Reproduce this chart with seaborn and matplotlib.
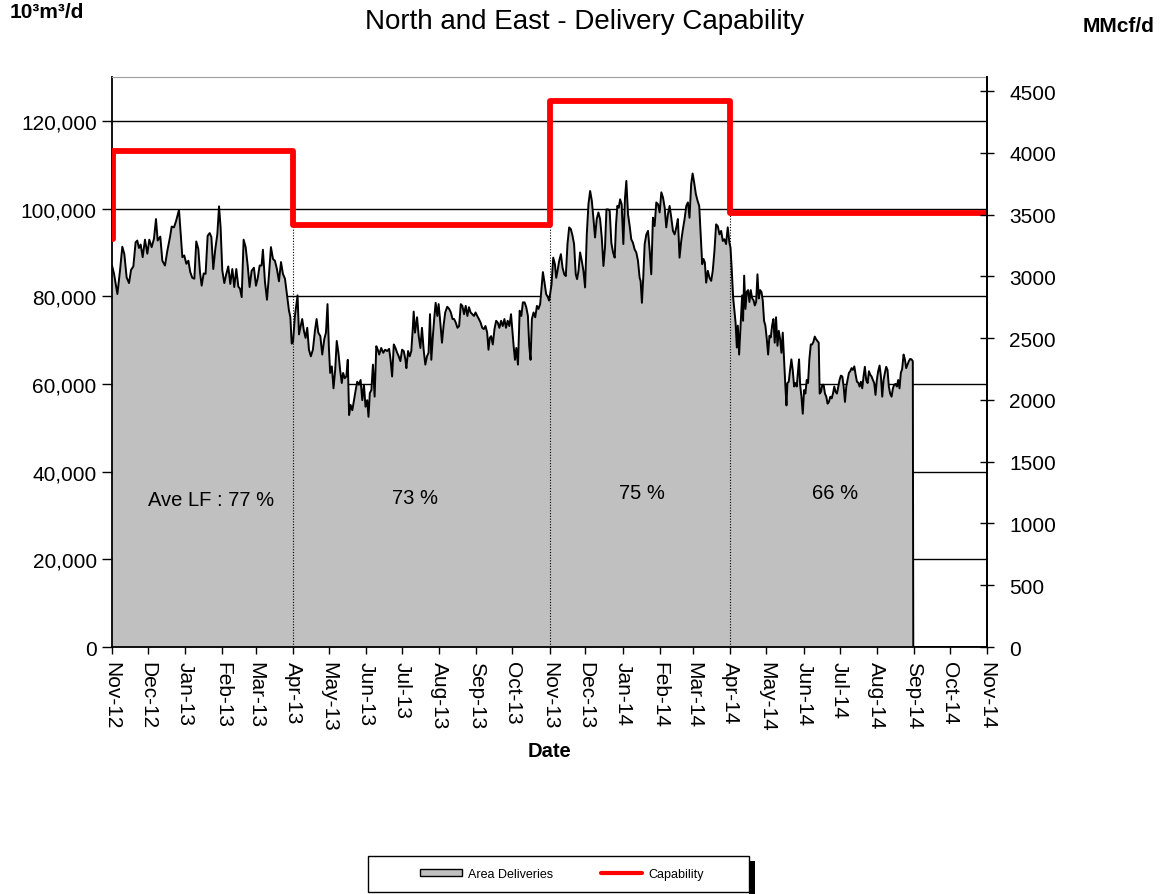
import numpy as np
import pandas as pd
import matplotlib
matplotlib.use("Agg")
import matplotlib.pyplot as plt
import matplotlib.ticker as mticker
from matplotlib.patches import Rectangle, Patch
from matplotlib.lines import Line2D
import seaborn as sns

# ---------------- data ----------------
# daily area deliveries: (days since 2012-11-01, thousand 10^3 m^3/d)
deliveries_winter_2012 = [
    (0, 87.0), (1.7, 85.1), (4.5, 80.5), (6.7, 85.9), (8.6, 91.3), (10.3, 89.6), (12.2, 84.3), (14.2, 83.0),
    (15.9, 86.0), (17.8, 86.8), (19.7, 92.3), (21.1, 92.7), (22.5, 91.0), (23.9, 91.8), (25.6, 88.9),
    (27.5, 92.9), (29.5, 89.7), (31.1, 92.9), (33.1, 91.2), (35.0, 93.1), (36.7, 97.6), (38.1, 92.7),
    (40.3, 93.6), (42.0, 88.1), (44.2, 87.0), (46.2, 90.4), (48.4, 93.5), (49.8, 95.9), (51.7, 95.7),
    (53.4, 97.1), (55.9, 99.7), (57.3, 94.2), (58.7, 88.9), (60.3, 89.3), (62.0, 87.4), (63.7, 88.1),
    (65.3, 85.5), (67.0, 84.2), (68.7, 84.0), (70.3, 92.5), (72.0, 90.8), (73.4, 85.5), (74.8, 82.4),
    (76.5, 85.2), (78.1, 85.1), (79.8, 93.8), (81.5, 94.4), (82.9, 93.5), (84.5, 86.2), (86.2, 90.8),
    (87.9, 94.2), (89.3, 100.5), (90.6, 95.7), (92.0, 85.9), (93.7, 83.0), (95.4, 85.1), (97.0, 86.8),
    (98.7, 82.8), (100.4, 86.2), (102.0, 82.1), (103.7, 86.2), (105.4, 82.2), (106.8, 81.7), (108.2, 79.8),
    (109.8, 92.9), (111.5, 91.2), (113.2, 87.0), (114.8, 82.1), (116.5, 85.8), (118.4, 86.5), (120.1, 82.4),
    (121.5, 84.0), (123.2, 87.0), (124.8, 87.0), (125.9, 90.6), (127.6, 83.3), (129.3, 79.2), (130.9, 84.7),
    (132.6, 91.2), (134.3, 88.5), (135.9, 88.1), (137.6, 86.2), (139.3, 83.4), (141.0, 87.8), (142.6, 85.1),
    (144.3, 84.0), (146.0, 80.2), (147.6, 76.8), (148.8, 75.2), (149.9, 69.2), (151.0, 69.5),
]
deliveries_summer_2013 = [
    (152.6, 75.5), (154.8, 80.2), (156.0, 71.3), (157.4, 73.2), (158.7, 74.8), (160.1, 72.1), (161.5, 70.5),
    (162.9, 72.8), (164.3, 67.8), (165.9, 66.3), (167.6, 67.8), (169.3, 72.1), (170.7, 74.8), (172.1, 71.7),
    (173.8, 70.9), (175.4, 66.7), (177.1, 70.2), (178.5, 71.7), (179.8, 78.2), (180.9, 68.6), (182.0, 62.5),
    (183.4, 64.0), (184.8, 59.0), (186.2, 63.2), (187.5, 69.8), (188.9, 67.1), (190.3, 63.2), (191.7, 60.2),
    (192.8, 62.5), (194.2, 61.3), (195.5, 61.7), (196.7, 65.5), (197.8, 52.9), (199.1, 55.2), (200.5, 54.0),
    (201.9, 56.3), (203.3, 58.6), (204.6, 60.5), (206.0, 59.8), (207.4, 60.9), (208.8, 56.3), (210.2, 59.8),
    (211.5, 54.8), (212.9, 56.3), (214.0, 52.5), (215.1, 57.9), (216.4, 58.6), (217.7, 64.4), (219.1, 57.1),
    (220.5, 68.6), (221.8, 67.8), (222.9, 66.7), (224.6, 68.2), (226.3, 67.1), (227.9, 67.8), (229.6, 67.5),
    (231.2, 68.0), (232.4, 65.5), (233.7, 61.7), (235.1, 69.0), (236.5, 68.2), (237.9, 67.1), (239.2, 66.3),
    (240.6, 65.2), (242.0, 67.8), (243.4, 67.5), (244.8, 65.5), (245.6, 63.6), (247.0, 67.5), (248.4, 66.3),
    (249.7, 67.5), (250.9, 72.5), (251.7, 76.5), (252.8, 71.7), (254.5, 75.2), (255.9, 70.9), (257.3, 68.2),
    (258.6, 72.8), (260.0, 67.8), (261.4, 64.4), (262.8, 66.3), (264.1, 67.1), (265.3, 75.9), (266.4, 65.5),
    (267.7, 70.9), (268.8, 74.8), (270.0, 78.5), (271.4, 75.5), (272.5, 78.2), (273.9, 74.0), (275.3, 69.4),
    (276.6, 73.2), (278.0, 76.3), (279.7, 77.6), (281.3, 77.1), (282.7, 76.3), (284.1, 74.8), (285.4, 74.8),
    (286.8, 74.0), (288.2, 72.8), (289.6, 73.2), (291.0, 78.2), (292.3, 77.8), (293.7, 75.9), (295.1, 77.8),
    (296.5, 75.5), (297.8, 77.5), (299.2, 76.3), (300.6, 75.9), (302.0, 75.5), (303.3, 76.3), (304.7, 75.5),
    (306.1, 74.8), (307.5, 74.0), (308.9, 72.8), (310.2, 72.5), (311.6, 73.2), (313.0, 71.7), (314.1, 67.8),
    (315.2, 70.5), (316.3, 70.9), (317.7, 69.0), (319.1, 72.5), (320.5, 74.4), (321.8, 74.0), (323.2, 72.8),
    (324.6, 74.4), (326.0, 73.2), (327.4, 74.8), (328.7, 72.8), (330.1, 74.4), (331.5, 73.2), (332.9, 75.9),
    (334.0, 72.1), (335.1, 68.6), (336.2, 65.5), (337.3, 68.2), (338.7, 64.4), (340.1, 76.7), (341.5, 75.5),
    (342.8, 78.6), (344.2, 78.6), (345.6, 77.5), (347.0, 75.5), (348.1, 68.6), (349.2, 65.5), (350.3, 74.8),
    (351.7, 76.3), (353.1, 75.2), (354.5, 77.8), (355.8, 77.1), (357.2, 78.2), (358.3, 81.7), (359.5, 85.5),
    (360.8, 83.2), (362.2, 80.5), (363.6, 79.8), (364.7, 79.0),
]
deliveries_winter_2013 = [
    (366.7, 82.7), (368.1, 88.8), (369.5, 87.3), (370.6, 84.2), (371.7, 85.8), (373.1, 88.1), (374.5, 89.6),
    (375.9, 86.5), (377.3, 85.0), (378.6, 84.6), (380.0, 91.9), (381.4, 95.7), (382.8, 95.3), (384.2, 93.8),
    (385.5, 91.9), (386.9, 85.0), (388.0, 83.9), (389.2, 85.8), (390.5, 90.0), (391.9, 88.1), (393.3, 85.8),
    (394.7, 82.0), (396.1, 94.1), (397.5, 101.0), (398.9, 104.0), (400.3, 101.8), (401.6, 97.9), (403.0, 93.4),
    (404.4, 97.6), (405.8, 99.1), (407.2, 97.6), (408.6, 93.4), (410.0, 86.9), (411.3, 91.1), (412.5, 99.8),
    (413.9, 99.8), (415.2, 99.5), (416.6, 92.2), (418.0, 90.0), (419.4, 88.8), (420.5, 96.4), (421.6, 100.6),
    (422.8, 100.2), (423.9, 102.1), (425.2, 101.0), (426.6, 91.9), (428.0, 102.5), (429.1, 106.3), (430.5, 98.7),
    (431.9, 96.0), (433.2, 93.0), (434.6, 92.2), (436.0, 90.7), (437.4, 90.0), (438.8, 88.1), (440.2, 84.2),
    (441.0, 83.5), (442.1, 78.5), (443.2, 84.2), (444.4, 91.9), (445.8, 94.1), (447.2, 94.9), (448.6, 90.3),
    (449.9, 85.0), (451.3, 97.9), (452.7, 96.0), (454.1, 101.4), (455.5, 101.0), (456.9, 99.1), (458.3, 103.7),
    (459.7, 102.5), (461.1, 100.2), (462.4, 95.7), (463.8, 98.7), (465.2, 100.6), (466.6, 97.9), (468.0, 94.9),
    (469.4, 94.1), (470.8, 95.7), (472.1, 97.6), (473.5, 88.8), (474.9, 92.6), (476.3, 95.3), (477.7, 97.6),
    (479.1, 100.6), (480.5, 101.4), (481.8, 97.9), (483.2, 105.6), (484.4, 108.0), (485.7, 105.9), (487.1, 103.3),
    (488.5, 101.8), (489.9, 100.6), (491.3, 93.4), (492.4, 87.3), (493.5, 88.5), (494.6, 87.7), (495.7, 83.1),
    (497.1, 85.8), (498.5, 84.2), (499.9, 83.5), (501.2, 85.8), (502.6, 90.3), (504.0, 96.4), (505.4, 96.0),
    (506.8, 94.1), (508.2, 94.9), (509.6, 92.6), (510.9, 93.0), (512.3, 91.9), (513.7, 95.7), (515.1, 92.2),
    (516.0, 91.1), (517.1, 85.8), (518.2, 79.7), (519.3, 76.6),
]
deliveries_summer_2014 = [
    (520.2, 74.1), (521.3, 68.3), (522.1, 73.3), (523.2, 66.7), (524.6, 74.1), (525.7, 80.2), (526.5, 74.4),
    (527.4, 84.7), (528.5, 77.1), (529.6, 81.0), (530.7, 81.4), (531.8, 78.7), (532.9, 81.4), (534.1, 79.5),
    (535.2, 79.1), (536.3, 77.9), (537.4, 78.7), (538.5, 85.0), (539.6, 79.5), (540.7, 81.4), (541.8, 81.0),
    (542.9, 79.1), (544.0, 74.4), (545.1, 73.3), (546.3, 70.2), (547.4, 66.7), (548.5, 71.0), (549.6, 70.6),
    (550.7, 73.3), (551.8, 74.8), (552.9, 69.4), (554.0, 75.2), (555.2, 68.7), (556.3, 72.1), (557.4, 70.2),
    (558.5, 67.1), (559.6, 71.7), (560.7, 65.6), (561.8, 59.4), (562.7, 55.1), (563.5, 60.2), (564.6, 60.5),
    (565.7, 63.2), (566.8, 65.6), (567.9, 63.2), (569.1, 59.4), (570.2, 60.2), (571.3, 59.4), (572.4, 63.2),
    (573.2, 65.6), (574.1, 59.8), (575.2, 57.1), (576.3, 53.2), (577.4, 58.6), (578.5, 57.8), (579.6, 60.9),
    (580.7, 60.2), (581.8, 65.6), (583.0, 69.0), (584.1, 69.0), (585.2, 69.6), (586.3, 70.8), (587.4, 70.2),
    (588.5, 69.8), (589.6, 69.4), (590.4, 57.8), (591.5, 58.2), (592.6, 59.8), (593.7, 59.8), (594.8, 57.8),
    (595.9, 57.1), (597.0, 55.5), (598.1, 55.9), (599.3, 57.1), (600.4, 56.7), (601.5, 57.8), (602.6, 59.4),
    (603.7, 58.2), (604.8, 57.8), (605.9, 59.4), (607.0, 60.9), (608.1, 61.9), (609.3, 61.7), (610.4, 59.4),
    (611.5, 55.9), (612.6, 59.4), (613.7, 60.9), (614.8, 62.5), (615.9, 62.9), (617.0, 63.6), (618.1, 63.2),
    (619.3, 64.0), (620.4, 62.1), (621.5, 60.5), (622.6, 60.3), (623.7, 59.4), (624.8, 60.5), (625.9, 59.0),
    (627.0, 61.7), (628.1, 63.9), (629.2, 60.9), (630.4, 60.2), (631.5, 62.9), (632.6, 62.1), (633.7, 61.7),
    (634.8, 60.9), (635.9, 60.2), (637.0, 57.5), (638.1, 60.9), (639.2, 62.9), (640.4, 64.2), (641.5, 61.7),
    (642.6, 57.1), (643.7, 60.9), (644.8, 62.5), (645.9, 63.9), (647.0, 63.2), (648.1, 59.4), (649.2, 57.8),
    (650.4, 57.1), (651.5, 59.0), (652.6, 59.8), (653.7, 60.0), (654.8, 59.4), (655.9, 60.9), (657.0, 59.0),
    (658.1, 62.5), (659.2, 63.4), (660.4, 66.7), (661.5, 65.6), (662.6, 63.6), (663.7, 64.4), (664.8, 65.2),
    (665.9, 65.7), (667.0, 65.6), (668.1, 65.2),
    (668.5, 0.0), (730.0, 0.0),   # no deliveries reported after end of August 2014
]

# delivery capability (thousand 10^3 m^3/d), step changes on these days since 2012-11-01
capability_day = [0, 1, 151, 365, 516, 730]
capability_value = [93.1, 113.2, 96.3, 124.6, 98.9, 98.9]

# season boundaries (dotted lines) and load-factor labels
season_change_day = [151, 365, 516]
season_change_top = [96.3, 96.3, 98.9]
lf_labels = ["Ave LF : 77 %", "73 %", "75 %", "66 %"]
lf_day = [83, 253, 442, 603]
lf_level = [33.7, 34.2, 35.3, 35.3]

START = pd.Timestamp("2012-11-01")
END = pd.Timestamp("2014-11-01")
MMCF_TO_E3M3 = 28.17

# ---------------- build frames ----------------
pairs = deliveries_winter_2012 + deliveries_summer_2013 + deliveries_winter_2013 + deliveries_summer_2014
deliv = pd.DataFrame(pairs, columns=["day", "value"])
deliv["date"] = START + pd.to_timedelta(deliv["day"], unit="D")
deliv["e3m3"] = deliv["value"] * 1000

cap = pd.DataFrame({"day": capability_day, "value": capability_value})
cap["date"] = START + pd.to_timedelta(cap["day"], unit="D")
cap["e3m3"] = cap["value"] * 1000

# ---------------- style ----------------
sns.set_theme(style="white")
plt.rcParams["font.family"] = ["Liberation Sans", "DejaVu Sans"]
plt.rcParams.update({"text.color": "black", "axes.labelcolor": "black",
                     "xtick.color": "black", "ytick.color": "black"})

W, H = 1169, 895
fig = plt.figure(figsize=(W / 100, H / 100), dpi=100)
ax = fig.add_axes([112 / W, 1 - 648 / H, 875 / W, 570 / H])

# gridlines behind the area
ax.set_axisbelow(True)
ax.yaxis.grid(True, color="black", linewidth=1.0)
ax.xaxis.grid(False)

# area deliveries
ax.fill_between(deliv["date"], deliv["e3m3"], 0, color="#C0C0C0", linewidth=0, zorder=1)
sns.lineplot(data=deliv, x="date", y="e3m3", ax=ax, color="black", linewidth=1.4,
             estimator=None, sort=False, zorder=2)

# dotted season boundaries
for d, top in zip(season_change_day, season_change_top):
    dt = START + pd.Timedelta(days=d)
    ax.vlines(dt, 0, top * 1000, colors="black", linestyles=(0, (1, 1.5)), linewidth=0.8, zorder=3)

# capability
sns.lineplot(data=cap, x="date", y="e3m3", ax=ax, color="#FF0000", linewidth=4.2,
             drawstyle="steps-post", estimator=None, sort=False, zorder=5)

# load-factor text
for lab, d, lv in zip(lf_labels, lf_day, lf_level):
    ax.text(START + pd.Timedelta(days=d), lv * 1000, lab, ha="center", va="center",
            fontsize=14.5, color="black", zorder=6)

# axes limits/ticks
ax.set_xlim(START, END)
ax.set_ylim(0, 130000)
ax.set_yticks(np.arange(0, 120001, 20000))
ax.yaxis.set_major_formatter(mticker.FuncFormatter(lambda v, p: f"{v:,.0f}"))
months = pd.date_range(START, END, freq="MS")
ax.set_xticks(months)
ax.set_xticklabels([m.strftime("%b-%y") for m in months], rotation=-90, ha="center", va="top")
ax.tick_params(axis="y", which="major", direction="out", length=7, width=1, colors="black",
               labelsize=15, pad=4, left=True)
ax.tick_params(axis="x", which="major", direction="out", length=5, width=1, colors="black",
               labelsize=15, pad=5, bottom=True)
ax.set_ylabel("")
ax.set_xlabel("Date", fontsize=14.5, fontweight="bold", color="black")
ax.xaxis.set_label_coords(0.5, -(742 - 648) / 570)

for side in ["left", "bottom", "right"]:
    ax.spines[side].set_color("black")
    ax.spines[side].set_linewidth(1.3)
ax.spines["top"].set_color("#a0a0a0")
ax.spines["top"].set_linewidth(0.8)

# secondary axis (MMcf/d)
ax2 = ax.twinx()
ax2.set_ylim(0, 130000 / MMCF_TO_E3M3)
ax2.set_yticks(np.arange(0, 4501, 500))
ax2.tick_params(axis="y", direction="inout", length=10, width=1, colors="black", labelsize=15, pad=11, right=True)
for side in ["left", "top", "bottom"]:
    ax2.spines[side].set_visible(False)
ax2.spines["right"].set_color("black")
ax2.spines["right"].set_linewidth(1.3)
ax2.grid(False)

# titles / units
fig.text(584.5 / W, 1 - 22 / H, "North and East - Delivery Capability", ha="center", va="center",
         fontsize=20, color="black")
fig.text(10 / W, 1 - 13 / H, "10³m³/d", ha="left", va="center", fontsize=15, fontweight="bold", color="black")
fig.text(1155 / W, 1 - 27 / H, "MMcf/d", ha="right", va="center", fontsize=15, fontweight="bold", color="black")

# legend with boxed frame and right-side shadow
fig.patches.append(Rectangle((749 / W, 0), 6 / W, (895 - 862) / H, transform=fig.transFigure,
                             facecolor="black", edgecolor="none", zorder=1))
fig.patches.append(Rectangle((368 / W, 1 - 893 / H), 381 / W, 36 / H, transform=fig.transFigure,
                             facecolor="white", edgecolor="black", linewidth=1.0, zorder=2))
handles = [Patch(facecolor="#C0C0C0", edgecolor="black", linewidth=1.0),
           Line2D([0], [0], color="#FF0000", linewidth=3)]
leg = fig.legend(handles, ["Area Deliveries", "Capability"], loc="center",
                 bbox_to_anchor=(562 / W, 1 - 875 / H), ncol=2, frameon=False, fontsize=9,
                 handlelength=3.3, handleheight=0.45, handletextpad=0.5, columnspacing=3.8)
leg.set_zorder(3)
for t in leg.get_texts():
    t.set_color("black")

fig.savefig("out.png", dpi=100)
